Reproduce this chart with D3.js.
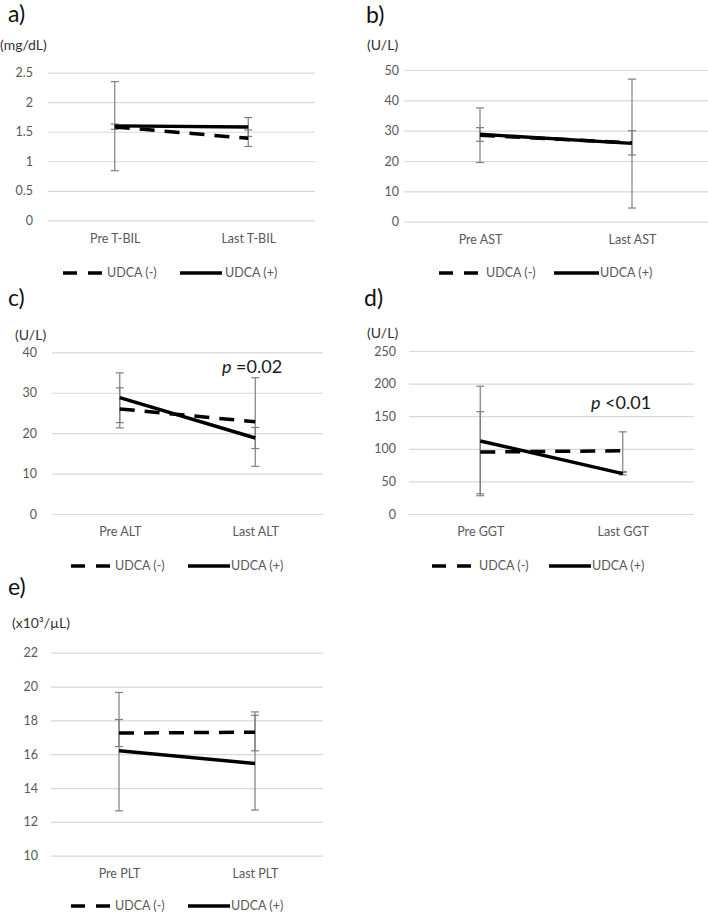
<!DOCTYPE html>
<html><head><meta charset="utf-8">
<script src="https://cdn.jsdelivr.net/npm/d3@7"></script>
<style>
body{margin:0;background:#fff;}
svg{display:block;font-family:Lato,"Open Sans",sans-serif;}
</style></head><body>
<svg id="chart" width="708" height="915"></svg>
<script>
// ---------------- data ----------------
const seriesNames = ["UDCA (-)", "UDCA (+)"];
const panelLabels = ["a)", "b)", "c)", "d)", "e)"];
const unitLabels = ["(mg/dL)", "(U/L)", "(U/L)", "(U/L)", "(x10³/µL)"];
const pValueLabels = [null, null, "=0.02", "<0.01", null];

const tbilCategories = ["Pre T-BIL", "Last T-BIL"];
const tbilTicks = [0, 0.5, 1, 1.5, 2, 2.5];
const tbilNeg = [1.58, 1.39];
const tbilPos = [1.60, 1.58];
const tbilNegLow = [1.54, 1.25], tbilNegHigh = [1.63, 1.53];
const tbilPosLow = [0.84, 1.42], tbilPosHigh = [2.35, 1.74];

const astCategories = ["Pre AST", "Last AST"];
const astTicks = [0, 10, 20, 30, 40, 50];
const astNeg = [28.5, 26.0];
const astPos = [28.8, 25.8];
const astNegLow = [26.5, 22.0], astNegHigh = [31.0, 30.0];
const astPosLow = [19.5, 4.5], astPosHigh = [37.5, 47.0];

const altCategories = ["Pre ALT", "Last ALT"];
const altTicks = [0, 10, 20, 30, 40];
const altNeg = [26.0, 22.8];
const altPos = [28.8, 18.8];
const altNegLow = [22.6, 11.8], altNegHigh = [31.2, 33.7];
const altPosLow = [21.3, 16.2], altPosHigh = [34.9, 21.4];

const ggtCategories = ["Pre GGT", "Last GGT"];
const ggtTicks = [0, 50, 100, 150, 200, 250];
const ggtNeg = [95, 97];
const ggtPos = [112, 62];
const ggtNegLow = [28, 64], ggtNegHigh = [157, 126];
const ggtPosLow = [31, 60], ggtPosHigh = [196, 65];

const pltCategories = ["Pre PLT", "Last PLT"];
const pltTicks = [10, 12, 14, 16, 18, 20, 22];
const pltNeg = [17.25, 17.3];
const pltPos = [16.2, 15.45];
const pltNegLow = [16.45, 16.2], pltNegHigh = [18.05, 18.3];
const pltPosLow = [12.65, 12.7], pltPosHigh = [19.65, 18.5];

// ---------------- layout ----------------
const panels = [
  {cats: tbilCategories, ticks: tbilTicks, neg: tbilNeg, pos: tbilPos, negLow: tbilNegLow, negHigh: tbilNegHigh, posLow: tbilPosLow, posHigh: tbilPosHigh,
   x0: 48, x1: 315, yTop: 72.7, yBot: 220.3, lab: [8, 22], unit: [0, 45], tickRight: 33, catY: 239, legY: 273, leg: [63, 102, 107, 180, 222, 225], p: null},
  {cats: astCategories, ticks: astTicks, neg: astNeg, pos: astPos, negLow: astNegLow, negHigh: astNegHigh, posLow: astPosLow, posHigh: astPosHigh,
   x0: 404, x1: 708, yTop: 70, yBot: 221.7, lab: [366, 23], unit: [367, 45], tickRight: 399, catY: 240, legY: 273, leg: [439, 479, 486, 554, 599, 600], p: null},
  {cats: altCategories, ticks: altTicks, neg: altNeg, pos: altPos, negLow: altNegLow, negHigh: altNegHigh, posLow: altPosLow, posHigh: altPosHigh,
   x0: 52, x1: 323, yTop: 352.3, yBot: 514, lab: [8, 306], unit: [15, 335], tickRight: 37, catY: 532, legY: 566, leg: [71, 110, 115, 188, 230, 231], p: [222, 367]},
  {cats: ggtCategories, ticks: ggtTicks, neg: ggtNeg, pos: ggtPos, negLow: ggtNegLow, negHigh: ggtNegHigh, posLow: ggtPosLow, posHigh: ggtPosHigh,
   x0: 409, x1: 694, yTop: 351, yBot: 514, lab: [364, 306], unit: [367, 333], tickRight: 396, catY: 532, legY: 566, leg: [432, 472, 479, 549, 591, 592], p: [591, 403]},
  {cats: pltCategories, ticks: pltTicks, neg: pltNeg, pos: pltPos, negLow: pltNegLow, negHigh: pltNegHigh, posLow: pltPosLow, posHigh: pltPosHigh,
   x0: 51, x1: 323, yTop: 652.7, yBot: 855.7, lab: [8, 595], unit: [12, 623], tickRight: 38, catY: 874, legY: 906, leg: [71, 110, 115, 188, 230, 231], p: null}
];

const svg = d3.select("#chart");
const gridColor = "#d9d9d9", textGrey = "#595959", errColor = "#7f7f7f";
const dash = "15,10";

panels.forEach((P, i) => {
  const g = svg.append("g");
  const x = d3.scalePoint().domain(P.cats).range([P.x0, P.x1]).padding(0.5);
  const y = d3.scaleLinear().domain([d3.min(P.ticks), d3.max(P.ticks)]).range([P.yBot, P.yTop]);

  // gridlines
  const grid = g.append("g").attr("transform", `translate(${P.x0},0)`)
    .call(d3.axisLeft(y).tickValues(P.ticks).tickSize(-(P.x1 - P.x0)).tickFormat(""));
  grid.select(".domain").remove();
  grid.selectAll("line").attr("stroke", gridColor).attr("stroke-width", 1.2);

  // y tick labels
  const ya = g.append("g").attr("transform", `translate(${P.tickRight},0)`)
    .call(d3.axisLeft(y).tickValues(P.ticks).tickSize(0).tickPadding(0).tickFormat(d => d));
  ya.select(".domain").remove();
  ya.selectAll("text").attr("fill", textGrey).style("font-size", "12.5px").style("font-family", "Lato, sans-serif");

  // x category labels
  const xa = g.append("g").attr("transform", `translate(0,${P.catY})`)
    .call(d3.axisBottom(x).tickSize(0).tickPadding(0));
  xa.select(".domain").remove();
  xa.selectAll("text").attr("y", 0).attr("dy", "0.35em").attr("fill", textGrey)
    .style("font-size", "12.5px").style("font-family", "Lato, sans-serif");

  // panel label and unit
  g.append("text").attr("x", P.lab[0]).attr("y", P.lab[1]).text(panelLabels[i])
    .attr("fill", "#111").style("font-size", "23px");
  g.append("text").attr("x", P.unit[0]).attr("y", P.unit[1]).attr("dy", "0.35em").text(unitLabels[i])
    .attr("fill", "#333").style("font-size", "14px");

  // error bars
  const errs = [
    {low: P.negLow, high: P.negHigh},
    {low: P.posLow, high: P.posHigh}
  ];
  errs.forEach(e => {
    P.cats.forEach((c, j) => {
      const cx = x(c);
      g.append("line").attr("x1", cx).attr("x2", cx).attr("y1", y(e.low[j])).attr("y2", y(e.high[j]))
        .attr("stroke", errColor).attr("stroke-width", 1.2);
      [e.low[j], e.high[j]].forEach(v => {
        g.append("line").attr("x1", cx - 4).attr("x2", cx + 4).attr("y1", y(v)).attr("y2", y(v))
          .attr("stroke", errColor).attr("stroke-width", 1.2);
      });
    });
  });

  // series lines
  const line = d3.line().x((d, j) => x(P.cats[j])).y(d => y(d));
  g.append("path").datum(P.neg).attr("d", line).attr("fill", "none")
    .attr("stroke", "#000").attr("stroke-width", 3.5).attr("stroke-dasharray", dash);
  g.append("path").datum(P.pos).attr("d", line).attr("fill", "none")
    .attr("stroke", "#000").attr("stroke-width", 3.4);

  // legend
  const L = P.leg;
  g.append("line").attr("x1", L[0]).attr("x2", L[1]).attr("y1", P.legY).attr("y2", P.legY)
    .attr("stroke", "#000").attr("stroke-width", 3.5).attr("stroke-dasharray", "14,11");
  g.append("text").attr("x", L[2]).attr("y", P.legY).attr("dy", "0.35em").text(seriesNames[0])
    .attr("fill", textGrey).style("font-size", "12.5px");
  g.append("line").attr("x1", L[3]).attr("x2", L[4]).attr("y1", P.legY).attr("y2", P.legY)
    .attr("stroke", "#000").attr("stroke-width", 3.5);
  g.append("text").attr("x", L[5]).attr("y", P.legY).attr("dy", "0.35em").text(seriesNames[1])
    .attr("fill", textGrey).style("font-size", "12.5px");

  // p value
  if (P.p && pValueLabels[i]) {
    const t = g.append("text").attr("x", P.p[0]).attr("y", P.p[1]).attr("dy", "0.35em")
      .attr("fill", "#1a1a1a").style("font-size", "18px");
    t.append("tspan").style("font-style", "italic").text("p");
    t.append("tspan").text(" " + pValueLabels[i]);
  }
});
</script>
</body></html>
